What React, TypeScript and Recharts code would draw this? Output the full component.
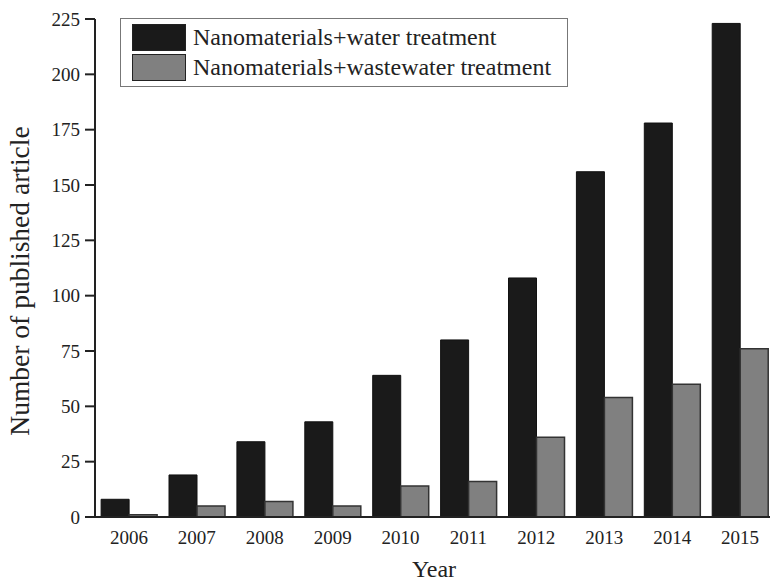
import React from 'react';
import { BarChart, Bar, XAxis, YAxis } from 'recharts';

const years = ['2006', '2007', '2008', '2009', '2010', '2011', '2012', '2013', '2014', '2015'];
const waterTreatment = [8, 19, 34, 43, 64, 80, 108, 156, 178, 223];
const wastewaterTreatment = [1, 5, 7, 5, 14, 16, 36, 54, 60, 76];
const yTicks = [0, 25, 50, 75, 100, 125, 150, 175, 200, 225];

const seriesNames = ['Nanomaterials+water treatment', 'Nanomaterials+wastewater treatment'];
const seriesColors = ['#1a1a1a', '#808080'];

const data = years.map((year, i) => ({
  year,
  water: waterTreatment[i],
  wastewater: wastewaterTreatment[i],
}));

const font = '"Liberation Serif", "Times New Roman", serif';

function LegendBox(): JSX.Element {
  return (
    <div
      style={{
        position: 'absolute',
        left: 120,
        top: 18,
        border: '1.5px solid #777',
        background: '#fff',
        width: 448,
        padding: '4px 0 4px 11px',
        boxSizing: 'border-box',
        fontFamily: font,
        fontSize: 24,
        color: '#222',
      }}
    >
      {seriesNames.map((name, i) => (
        <div key={name} style={{ display: 'flex', alignItems: 'center', height: 29.5 }}>
          <div
            style={{
              width: 54,
              height: 27,
              background: seriesColors[i],
              border: '1.5px solid #222',
              boxSizing: 'border-box',
              marginRight: 7,
            }}
          />
          <span style={{ lineHeight: '29px' }}>{name}</span>
        </div>
      ))}
    </div>
  );
}

export default function App(): JSX.Element {
  return (
    <div style={{ position: 'absolute', left: 0, top: 0, width: 770, height: 585, background: '#fff', overflow: 'hidden' }}>
      <BarChart
        width={770}
        height={585}
        data={data}
        margin={{ top: 19, right: -4, bottom: 0, left: 0 }}
        barCategoryGap="9%"
        barGap={0}
      >
        <XAxis
          dataKey="year"
          height={68}
          interval={0}
          tickLine={false}
          axisLine={{ stroke: '#222', strokeWidth: 2 }}
          tick={{ fill: '#222', fontSize: 19, fontFamily: font }}
          tickMargin={8}
          label={{
            value: 'Year',
            content: () => (
              <text x={434} y={577} textAnchor="middle" fill="#222" fontSize={24} fontFamily={font}>
                Year
              </text>
            ),
          }}
        />
        <YAxis
          width={95}
          domain={[0, 225]}
          ticks={yTicks}
          interval={0}
          tickSize={10}
          tickLine={{ stroke: '#222', strokeWidth: 2 }}
          axisLine={{ stroke: '#222', strokeWidth: 2 }}
          tick={{ fill: '#222', fontSize: 19, fontFamily: font }}
          tickMargin={5}
          label={{
            value: 'Number of published article',
            content: () => (
              <text
                x={29}
                y={281}
                transform="rotate(-90 29 281)"
                textAnchor="middle"
                fill="#222"
                fontSize={27.5}
                fontFamily={font}
              >
                Number of published article
              </text>
            ),
          }}
        />
        <Bar
          dataKey="water"
          name={seriesNames[0]}
          fill={seriesColors[0]}
          stroke="#111"
          strokeWidth={1}
          isAnimationActive={false}
        />
        <Bar
          dataKey="wastewater"
          name={seriesNames[1]}
          fill={seriesColors[1]}
          stroke="#333"
          strokeWidth={1.5}
          isAnimationActive={false}
        />
      </BarChart>
      <LegendBox />
    </div>
  );
}
